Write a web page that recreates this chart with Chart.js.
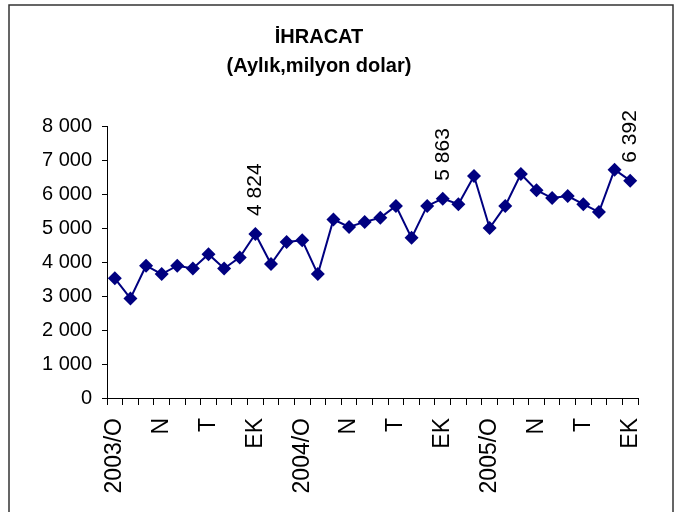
<!DOCTYPE html>
<html lang="tr">
<head>
    <meta charset="UTF-8">
    <title>İhracat</title>
    <style>
        html, body { margin: 0; padding: 0; background: #fff; }
        .wrap { width: 678px; height: 512px; position: relative; }
    </style>
</head>
<body>
    <div class="wrap">
        <canvas id="line"></canvas>
    </div>
    <script src="https://cdn.jsdelivr.net/npm/chart.js@4.4.0/dist/chart.umd.min.js"></script>
    <script>
        // aylar: 2003 Ocak - 2005 Ekim
        const months = [
            '2003-01', '2003-02', '2003-03', '2003-04', '2003-05', '2003-06',
            '2003-07', '2003-08', '2003-09', '2003-10', '2003-11', '2003-12',
            '2004-01', '2004-02', '2004-03', '2004-04', '2004-05', '2004-06',
            '2004-07', '2004-08', '2004-09', '2004-10', '2004-11', '2004-12',
            '2005-01', '2005-02', '2005-03', '2005-04', '2005-05', '2005-06',
            '2005-07', '2005-08', '2005-09', '2005-10'
        ]
        const tickLabels = [
            '2003/O', '', '', 'N', '', '', 'T', '', '', 'EK', '', '',
            '2004/O', '', '', 'N', '', '', 'T', '', '', 'EK', '', '',
            '2005/O', '', '', 'N', '', '', 'T', '', '', 'EK'
        ]
        const exports = [
            3520, 2930, 3890, 3645, 3890, 3810, 4230, 3810, 4135, 4824, 3940, 4590,
            4640, 3645, 5250, 5030, 5180, 5300, 5650, 4710, 5650, 5863, 5700, 6530,
            5000, 5650, 6590, 6110, 5880, 5940, 5700, 5470, 6715, 6392
        ]
        const labelledPoints = [9, 21, 33]
        const yTicks = [0, 1000, 2000, 3000, 4000, 5000, 6000, 7000, 8000]

        const fmt = v => String(v).replace(/\B(?=(\d{3})+(?!\d))/g, ' ')

        const frame = {
            id: 'frame',
            beforeDraw(chart) {
                const ctx = chart.ctx
                ctx.save()
                ctx.fillStyle = '#fff'
                ctx.fillRect(0, 0, chart.width, chart.height)
                ctx.strokeStyle = '#333'
                ctx.lineWidth = 1.5
                ctx.strokeRect(9, 5, 664, 520)
                ctx.restore()
            }
        }

        const valueLabels = {
            id: 'valueLabels',
            afterDatasetsDraw(chart) {
                const ctx = chart.ctx
                const meta = chart.getDatasetMeta(0)
                ctx.save()
                ctx.font = '21px "Liberation Sans", Arial, sans-serif'
                ctx.fillStyle = '#000'
                ctx.textAlign = 'left'
                ctx.textBaseline = 'middle'
                labelledPoints.forEach(i => {
                    const pt = meta.data[i]
                    ctx.save()
                    ctx.translate(pt.x, pt.y - 18)
                    ctx.rotate(-Math.PI / 2)
                    ctx.fillText(fmt(exports[i]), 0, 0)
                    ctx.restore()
                })
                ctx.restore()
            }
        }

        const config = {
            type: 'line',
            data: {
                labels: months,
                datasets: [{
                    label: 'İhracat',
                    data: exports,
                    borderColor: '#000080',
                    backgroundColor: '#000080',
                    borderWidth: 2,
                    tension: 0,
                    pointStyle: 'rectRot',
                    pointRadius: 7,
                    pointHoverRadius: 7,
                    pointBorderWidth: 0
                }]
            },
            options: {
                responsive: false,
                animation: false,
                layout: { padding: { top: 0, right: 40, bottom: 0, left: 0 } },
                plugins: {
                    legend: { display: false },
                    tooltip: { enabled: false },
                    title: {
                        display: true,
                        text: ['İHRACAT', '(Aylık,milyon dolar)'],
                        color: '#000',
                        font: { family: '"Liberation Sans", Arial, sans-serif', size: 20, weight: 'bold', lineHeight: 1.45 },
                        padding: { top: 23, bottom: 45 }
                    }
                },
                scales: {
                    x: {
                        offset: true,
                        border: { color: '#000', width: 1 },
                        grid: { offset: true, drawOnChartArea: false, drawTicks: true, tickLength: 7, color: '#000' },
                        afterFit(scale) { scale.height = 114 },
                        ticks: {
                            autoSkip: false,
                            maxRotation: 90,
                            minRotation: 90,
                            padding: 13,
                            color: '#000',
                            font: { family: '"Liberation Sans", Arial, sans-serif', size: 23 },
                            callback: (v, i) => tickLabels[i]
                        }
                    },
                    y: {
                        min: 0,
                        max: 8000,
                        border: { color: '#000', width: 1 },
                        grid: { drawOnChartArea: false, drawTicks: true, tickLength: 5, color: '#000' },
                        afterFit(scale) { scale.width = 107 },
                        afterBuildTicks(scale) { scale.ticks = yTicks.map(v => ({ value: v })) },
                        ticks: {
                            padding: 10,
                            color: '#000',
                            font: { family: '"Liberation Sans", Arial, sans-serif', size: 20 },
                            callback: v => fmt(v)
                        }
                    }
                }
            },
            plugins: [frame, valueLabels]
        }

        const ctx = document.getElementById('line')
        ctx.width = 678
        ctx.height = 512
        const lineChart = new Chart(ctx, config)
    </script>
</body>
</html>
